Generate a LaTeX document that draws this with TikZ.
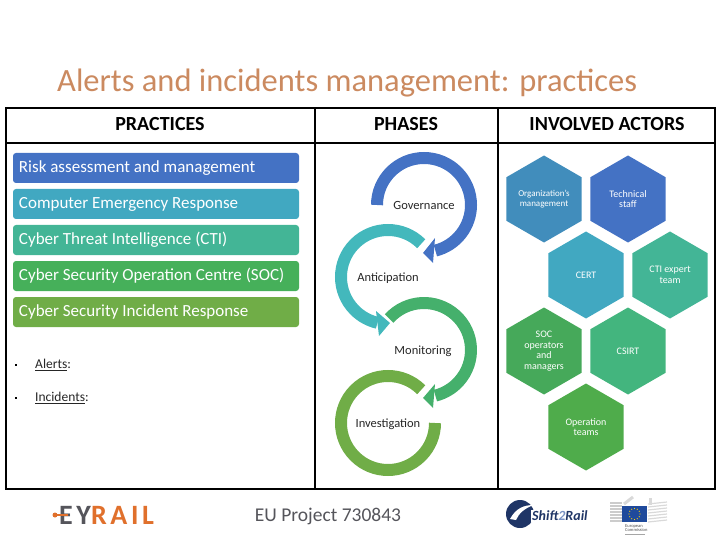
\documentclass[tikz,border=0pt]{standalone}
\usepackage{fontspec}
\setmainfont{Carlito}
\usetikzlibrary{shapes.geometric,positioning}
\definecolor{cblue}{HTML}{4472C4}
\definecolor{ccyan}{HTML}{41A8C1}
\definecolor{cteal}{HTML}{43B596}
\definecolor{cturq}{HTML}{43B8BC}
\definecolor{cgreen}{HTML}{46B05A}
\definecolor{carc}{HTML}{45B06C}
\definecolor{colive}{HTML}{70AD47}
\definecolor{corg}{HTML}{418DBC}
\definecolor{ccsirt}{HTML}{43B57E}
\definecolor{csoc}{HTML}{46A95A}
\definecolor{cop}{HTML}{4FAC4B}
\definecolor{ctitle}{HTML}{CB8A60}
\definecolor{crail}{HTML}{E0702C}
\definecolor{cgrey}{HTML}{55555B}
\definecolor{cnavy}{HTML}{1F3566}
\definecolor{ceu}{HTML}{1F4A9C}
\tikzset{
	practice/.style={rounded corners=3pt, minimum width=286pt, minimum height=30pt, inner xsep=6pt, inner ysep=0pt, text width=274pt, align=flush left, text=white, font=\fontsize{17}{17}\selectfont},
	head/.style={font=\bfseries\fontsize{20}{20}\selectfont},
	phase/.style={text=black!85, font=\fontsize{12.5}{12.5}\selectfont, inner sep=0pt},
	item/.style={anchor=west, inner sep=0pt, text=black!85, font=\fontsize{13.5}{13.5}\selectfont},
	hexa/.style={regular polygon, regular polygon sides=6, shape border rotate=30, minimum size=87pt, inner sep=0pt, text=white, align=flush center, font=\fontsize{10}{10.7}\selectfont},
	band/.style={line width=12pt}
}
\begin{document}
\begin{tikzpicture}[x=1pt, y=-1pt]
	\useasboundingbox (0,0) rectangle (720,540);
	\node[anchor=west, inner sep=0pt, text=ctitle, font=\fontsize{32.5}{32.5}\selectfont] (title) at (57,83) {Alerts and incidents management: practices};
	% table
	\draw[line width=1.6pt] (6,108) rectangle (715,489);
	\draw[line width=1.6pt] (6,143) -- (715,143);
	\draw[line width=1.6pt] (315,108) -- (315,489);
	\draw[line width=1.6pt] (498,108) -- (498,489);
	\node[head] (hpractices) at (160,124) {PRACTICES};
	\node[head] (hphases) at (406,124) {PHASES};
	\node[head] (hactors) at (607,124) {INVOLVED ACTORS};
	% practices
	\foreach \name/\ypos/\col/\txt in {
		risk/168/cblue/Risk assessment and management,
		cer/204/ccyan/Computer Emergency Response,
		cti/240/cteal/Cyber Threat Intelligence (CTI),
		soc/276/cgreen/Cyber Security Operation Centre (SOC),
		cir/312/colive/Cyber Security Incident Response}
	{
		\node[practice, fill=\col] (\name) at (156,\ypos) {\txt};
	}
	\node[item] (alerts) at (35,365) {\underline{Alerts}:};
	\node[item] (incidents) at (35,398) {\underline{Incidents}:};
	\fill (14.5,364) rectangle (16.5,366);
	\fill (14.5,397) rectangle (16.5,399);
	% phases
	\draw[band, cblue] (424,205) ++(180:47) arc (180:436:47);
	\fill[cblue] (435,238) -- (423,253) -- (433,263) -- cycle;
	\draw[band, cturq] (388,277) ++(-45:47) arc (-45:-257:47);
	\fill[cturq] (376,311) -- (390,323) -- (379,336) -- cycle;
	\draw[band, carc] (424,350) ++(222:47) arc (222:436:47);
	\fill[carc] (435,384) -- (423,398) -- (433,408) -- cycle;
	\draw[band, colive] (388,423) ++(-45:47) arc (-45:-360:47);
	\node[phase] (gov) at (424,205) {Governance};
	\node[phase] (ant) at (388,278) {Anticipation};
	\node[phase] (mon) at (423,351) {Monitoring};
	\node[phase] (inv) at (388,424) {Investigation};
	% actors
	\node[hexa, fill=corg, font=\fontsize{9}{10}\selectfont] (org) at (544,199) {Organization's\\management};
	\node[hexa, fill=cblue] (tech) at (628,199) {Technical\\staff};
	\node[hexa, fill=ccyan] (cert) at (586,275) {CERT};
	\node[hexa, fill=cteal] (ctiexp) at (670,275) {CTI expert\\team};
	\node[hexa, fill=csoc] (socop) at (544,351) {SOC\\operators\\and\\managers};
	\node[hexa, fill=ccsirt] (csirt) at (628,351) {CSIRT};
	\node[hexa, fill=cop] (opteam) at (586,427) {Operation\\teams};
	% footer
	\node[inner sep=0pt, text=cgrey, font=\fontsize{19.5}{19.5}\selectfont] (project) at (328,516) {EU Project 730843};
	\node[anchor=west, inner sep=0pt, font=\bfseries\fontsize{28}{28}\addfontfeature{LetterSpace=13}] (eyrail) at (59,515) {\textcolor{cgrey}{EY}\textcolor{crail}{RAIL}};
	\draw[crail, line width=1.4pt] (68,515) -- (54,515);
	\fill[crail] (55,515) circle (2.5pt);
	% shift2rail logo
	\fill[cnavy] (520,514) circle (14pt);
	\fill[white] (510,519) .. controls (516,508) and (524,505) .. (534,505) .. controls (525,508) and (519,513) .. (516,520) -- cycle;
	\node[anchor=west, inner sep=1pt, fill=white, text=cnavy, font=\itshape\bfseries\fontsize{14}{14}\selectfont] (s2r) at (531,516) {Shift\textcolor{ceu!60!white}{2}Rail};
	% commission logo
	\foreach \ypos in {503,506,...,521}
	{
		\draw[black!20, line width=1.5pt] (610,\ypos) -- (622,\ypos);
		\draw[black!15, line width=1.2pt] (648,\ypos+1) -- (667,\ypos-1);
	}
	\draw[black!15, line width=3pt] (624,504) -- (633,497);
	\draw[black!15, line width=3pt] (650,498) -- (650,505);
	\fill[ceu] (622,506) rectangle (647,522);
	\foreach \ang in {0,30,...,330}
	{
		\fill[yellow!70!orange] (634.5,514) ++(\ang:5.5) circle (0.6pt);
	}
	\node[anchor=north west, inner sep=0pt, text=black!70, align=flush left, font=\fontsize{4.5}{4.5}\selectfont] (ec) at (625,524) {European\\Commission};
	\draw[black!35, line width=1pt] (625,534) -- (645,534);
\end{tikzpicture}
\end{document}
